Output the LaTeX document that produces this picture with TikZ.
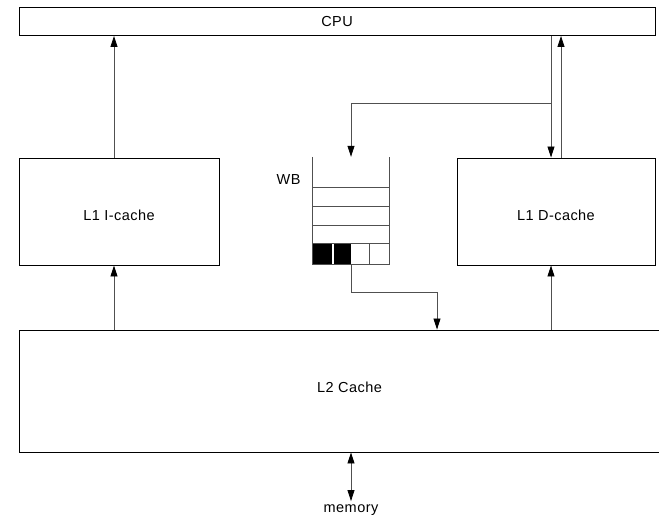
\documentclass[tikz,border=0pt]{standalone}
\usepackage{fontspec}
\setmainfont{Liberation Sans}[LetterSpace=3]
\usetikzlibrary{arrows.meta,positioning,calc}
\definecolor{linegray}{RGB}{80,80,80}

\begin{document}
\begin{tikzpicture}[x=1pt, y=-1pt,
    every node/.style={font=\fontsize{14.5}{17}\selectfont},
    box/.style={draw=black, line width=0.9pt, inner sep=0pt},
    lowtext/.style={text height=17pt, text depth=0pt},
    hightext/.style={text height=10.5pt, text depth=8.5pt},
    link/.style={draw=linegray, line width=0.8pt},
    tip/.style={-{Triangle[width=7pt,length=11pt,color=black]}},
    wbline/.style={draw=linegray, line width=0.9pt}]
  \clip (0,0) rectangle (659,520);
  \fill[white] (0,0) rectangle (659,520);

  % boxes
  \node[box, minimum width=636pt, minimum height=28pt] (cpu) at (337,21.5) {CPU};
  \node[box, lowtext, minimum width=200pt, minimum height=107pt] (icache) at (119,211.5) {L1 I-cache};
  \node[box, lowtext, minimum width=198pt, minimum height=107pt] (dcache) at (556,211.5) {L1 D-cache};
  \node[box, hightext, minimum width=661pt, minimum height=122pt] (ltwo) at (349.5,391) {L2 Cache};

  % write buffer
  \node[minimum width=76pt, minimum height=107pt, inner sep=0pt] (wb) at (351,210.5) {};
  \node[anchor=east] (wblabel) at (304,180) {WB};
  \fill (wb.south west) rectangle ($(wb.south west)+(19,-20)$);
  \fill ($(wb.south west)+(21,0)$) rectangle ($(wb.south west)+(38,-20)$);
  \draw[wbline] (wb.north west) -- (wb.south west) -- (wb.south east) -- (wb.north east);
  \foreach \yy in {31,50,69,87} {
    \draw[wbline] ($(wb.north west)+(0,\yy)$) -- ($(wb.north east)+(0,\yy)$);
  }
  \draw[wbline] ($(wb.south west)+(57,0)$) -- ($(wb.south west)+(57,-20)$);

  % connectors
  \coordinate (isplit) at (114,300);
  \coordinate (dsplit) at (551,103);
  \coordinate (wbturn) at (437,292);
  \draw[link, tip] (icache.north -| isplit) -- (cpu.south -| isplit);
  \draw[link, tip] (ltwo.north -| isplit) -- (icache.south -| isplit);
  \draw[link, tip] (cpu.south -| dsplit) -- (dcache.north -| dsplit);
  \draw[link, tip] ($(dcache.north -| dsplit)+(10,0)$) -- ($(cpu.south -| dsplit)+(10,0)$);
  \draw[link, tip] (dsplit) -- (dsplit -| wb.north) -- (wb.north);
  \draw[link, tip] (ltwo.north -| dsplit) -- (dcache.south -| dsplit);
  \draw[link, tip] (wb.south) -- (wb.south |- wbturn) -- (wbturn) -- (ltwo.north -| wbturn);

  % memory
  \node (mem) at (351,510) {memory};
  \draw[link, {Triangle[width=7pt,length=11pt,color=black]}-{Triangle[width=7pt,length=11pt,color=black]}] (ltwo.south -| mem) -- (mem.north);
\end{tikzpicture}
\end{document}
